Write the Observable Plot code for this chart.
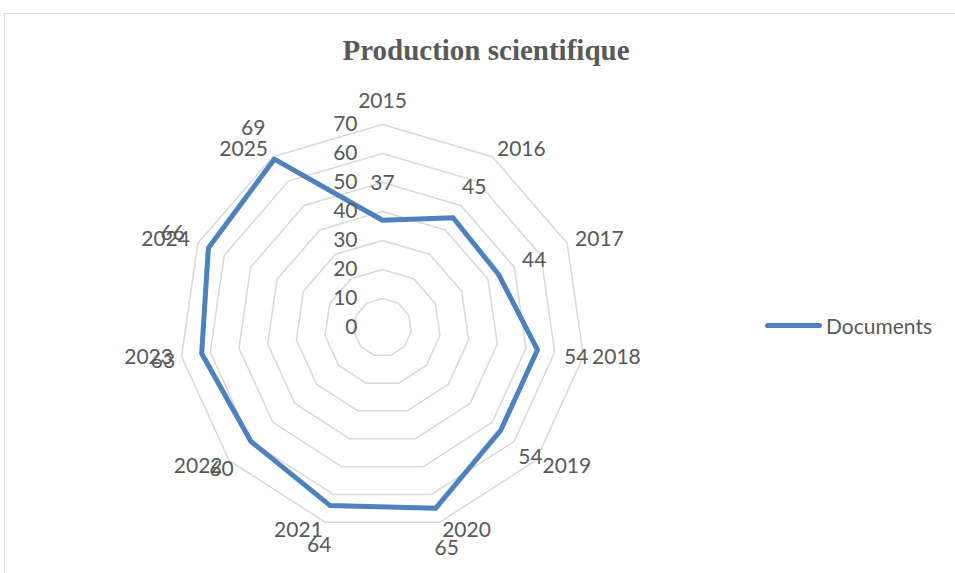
<!DOCTYPE html>
<html>
<head>
<meta charset="utf-8">
<script src="https://cdn.jsdelivr.net/npm/d3@7"></script>
<script src="https://cdn.jsdelivr.net/npm/@observablehq/plot@0.6"></script>
<style>
  html, body { margin: 0; padding: 0; background: #fff; overflow: hidden; }
  #wrap { position: relative; width: 955px; height: 573px; }
  #border { position: absolute; left: 4px; top: 13px; width: 1000px; height: 600px;
            border-left: 1.5px solid #d9d9d9; border-top: 1.5px solid #d9d9d9; pointer-events: none; }
  #title { position: absolute; left: 0; width: 972px; top: 34px; text-align: center;
           font-family: "Liberation Serif", serif; font-weight: bold; font-size: 29px; color: #595959; }
  #legend { position: absolute; left: 765px; top: 313px; display: flex; align-items: center;
            font-family: Lato, sans-serif; font-size: 21px; color: #595959; }
  #legend .sw { width: 57px; height: 5px; border-radius: 3px; background: #4f81bd; margin-right: 4px; }
  #chart { position: absolute; left: 0; top: 0; }
</style>
</head>
<body>
<div id="wrap">
  <div id="chart"></div>
  <div id="border"></div>
  <div id="title">Production scientifique</div>
  <div id="legend"><span class="sw"></span><span>Documents</span></div>
</div>
<script>
const categories = ["2015","2016","2017","2018","2019","2020","2021","2022","2023","2024","2025"];
const documents = [37, 45, 44, 54, 54, 65, 64, 60, 63, 66, 69];
const gridLevels = [10, 20, 30, 40, 50, 60, 70];
const tickLabels = [0, 10, 20, 30, 40, 50, 60, 70];
const maxValue = 70;

const n = categories.length;
const ang = i => i * 2 * Math.PI / n;
const px = (r, i) => r * Math.sin(ang(i));
const py = (r, i) => r * Math.cos(ang(i));

const gridData = gridLevels.flatMap(l => categories.map((c, i) => ({level: l, x: px(l, i), y: py(l, i)})));
const seriesData = documents.map((v, i) => ({cat: categories[i], v, x: px(v, i), y: py(v, i)}));
const labelOffset = 13.5;
const valueLabels = documents.map((v, i) => ({t: String(v), x: px(v + labelOffset, i), y: py(v + labelOffset, i)}));
const catLabels = categories.map((c, i) => {
  const s = Math.sin(ang(i));
  const r = maxValue + 3 + (Math.abs(s) < 0.1 ? 5 : 0);
  return {t: c, x: px(r, i), y: py(r, i), anchor: s > 0.1 ? "start" : s < -0.1 ? "end" : "middle"};
});
const tickData = tickLabels.map(v => ({t: String(v), x: 0, y: v}));

const cx = 382, cy = 327, R = 290; // pixels per 100 units
const font = "Lato, sans-serif";
const textColor = "#595959";
const fs = 21;

const chart = Plot.plot({
  width: 955,
  height: 573,
  margin: 0,
  x: {domain: [-100, 100], range: [cx - R, cx + R], axis: null},
  y: {domain: [-100, 100], range: [cy + R, cy - R], axis: null},
  style: {fontFamily: font, background: "transparent", overflow: "visible"},
  marks: [
    Plot.line(gridData, {x: "x", y: "y", z: "level", curve: "linear-closed", stroke: "#d9d9d9", strokeWidth: 1.5}),
    Plot.line(seriesData, {x: "x", y: "y", curve: "linear-closed", stroke: "#4f81bd", strokeWidth: 5, strokeLinejoin: "round"}),
    Plot.text(tickData, {x: "x", y: "y", text: "t", textAnchor: "end", dx: -25, fontSize: fs, fill: textColor}),
    Plot.text(valueLabels, {x: "x", y: "y", text: "t", fontSize: fs, fill: textColor, dy: 2}),
    Plot.text(catLabels.filter(d => d.anchor === "start"), {x: "x", y: "y", text: "t", textAnchor: "start", fontSize: fs, fill: textColor}),
    Plot.text(catLabels.filter(d => d.anchor === "end"), {x: "x", y: "y", text: "t", textAnchor: "end", fontSize: fs, fill: textColor}),
    Plot.text(catLabels.filter(d => d.anchor === "middle"), {x: "x", y: "y", text: "t", textAnchor: "middle", fontSize: fs, fill: textColor})
  ]
});
document.getElementById("chart").appendChild(chart);
</script>
</body>
</html>
